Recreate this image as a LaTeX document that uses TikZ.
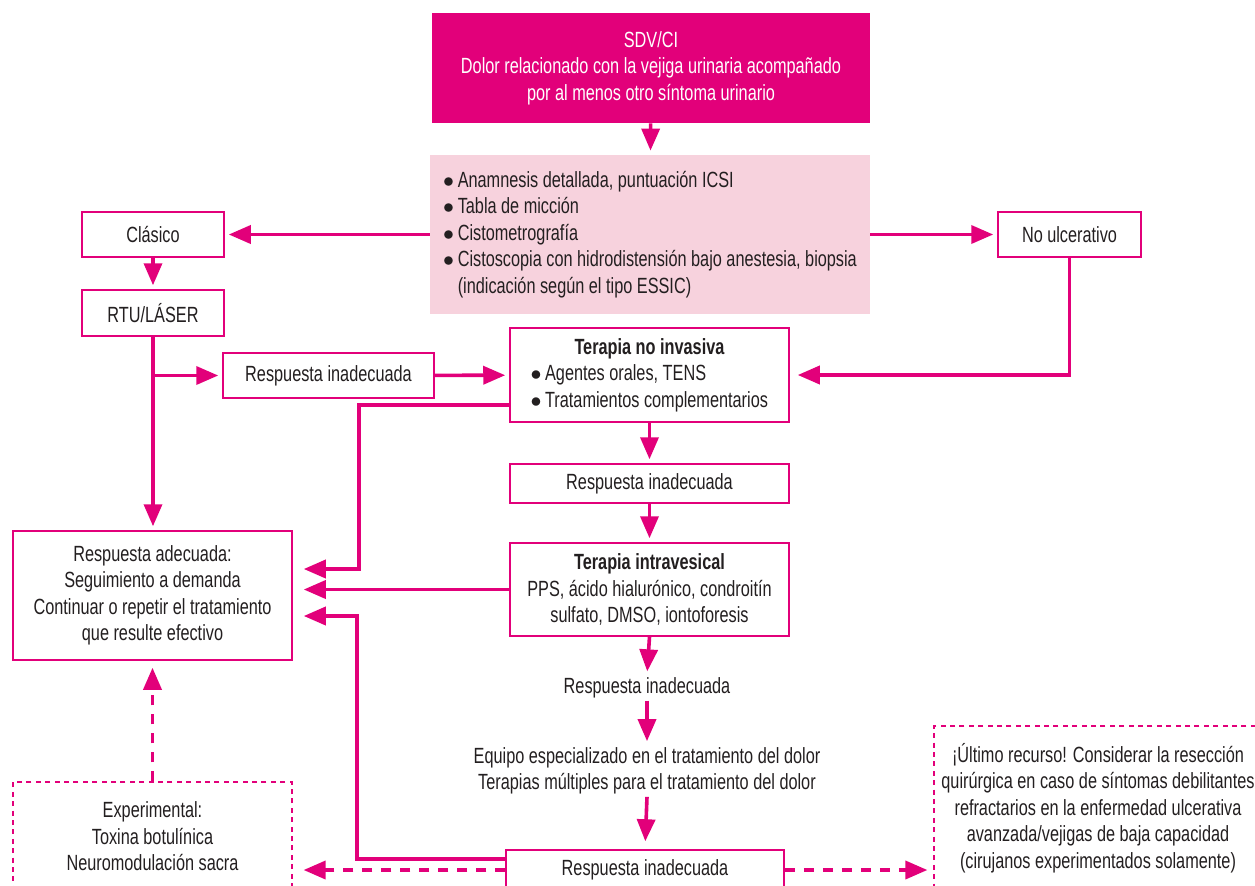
\documentclass[tikz,border=0pt]{standalone}
\usepackage{fontspec}
\setmainfont{Liberation Sans}[FakeStretch=0.74]
\usepackage{tikz}
\usetikzlibrary{arrows.meta}
\definecolor{fucsia}{HTML}{E2007A}
\definecolor{rosaclaro}{HTML}{F7D2DD}
\definecolor{texto}{HTML}{231F20}
\newcommand{\punto}{$\bullet$\,}

\begin{document}
\begin{tikzpicture}[x=0.5pt, y=-0.5pt, font=\fontsize{11}{13.2}\selectfont,
  caja/.style={draw=fucsia, line width=0.75pt, fill=white, text=texto, align=center, inner sep=2pt},
  cajapunt/.style={caja, dash pattern=on 2.5pt off 2.2pt, line width=0.6pt},
  flecha/.style={draw=fucsia, line width=1.8pt, -{Triangle[length=11pt,width=9pt]}, shorten >=2pt},
  flechapunt/.style={flecha, dash pattern=on 5pt off 4.5pt}]
%%%%% Frame %%%%%
\useasboundingbox (0,0) rectangle (1255,885);
\clip (0,0) rectangle (1255,885);
%%%%% Boxes %%%%%
\node[fill=fucsia, text=white, align=center, minimum width=219pt, minimum height=55pt] (sdv) at (651,68)
  {SDV/CI\\Dolor relacionado con la vejiga urinaria acompañado\\por al menos otro síntoma urinario};
\node[fill=rosaclaro, text=texto, align=left, minimum width=220pt, minimum height=79.5pt] (eval) at (650,234.5)
  {\punto Anamnesis detallada, puntuación ICSI\\
   \punto Tabla de micción\\
   \punto Cistometrografía\\
   \punto Cistoscopia con hidrodistensión bajo anestesia, biopsia\\
   \phantom{\punto}(indicación según el tipo ESSIC)};
\node[caja, minimum width=71pt, minimum height=22.5pt] (clasico) at (153,234.5) {Clásico};
\node[caja, minimum width=71pt, minimum height=23pt] (rtu) at (153,313) {RTU/LÁSER};
\node[caja, minimum width=71.5pt, minimum height=22.5pt] (noulc) at (1069.5,234.5) {No ulcerativo};
\node[caja, minimum width=105.5pt, minimum height=22.5pt] (resp1) at (328.5,375.5) {Respuesta inadecuada};
\node[caja, minimum width=139.5pt, minimum height=47pt] (tni) at (649.5,375)
  {\textbf{Terapia no invasiva}\\
   \makebox[119pt][l]{\punto Agentes orales, TENS}\\
   \makebox[119pt][l]{\punto Tratamientos complementarios}};
\node[caja, minimum width=139.5pt, minimum height=19.5pt] (resp2) at (649.5,483.5) {Respuesta inadecuada};
\node[caja, minimum width=139.5pt, minimum height=46.5pt] (tiv) at (649.5,589.5)
  {\textbf{Terapia intravesical}\\PPS, ácido hialurónico, condroitín\\sulfato, DMSO, iontoforesis};
\node[caja, minimum width=139.5pt, minimum height=64.5pt] (adec) at (152.5,595.5)
  {Respuesta adecuada:\\Seguimiento a demanda\\Continuar o repetir el tratamiento\\que resulte efectivo};
\node[text=texto, inner sep=1pt] (resp3) at (647,688) {Respuesta inadecuada};
\node[text=texto, align=center, inner sep=1pt] (equipo) at (647,771)
  {Equipo especializado en el tratamiento del dolor\\Terapias múltiples para el tratamiento del dolor};
\node[caja, minimum width=139pt, minimum height=20pt] (resp4) at (645,870) {Respuesta inadecuada};
\node[cajapunt, minimum width=139.5pt, minimum height=54.5pt] (exper) at (152.5,836.5)
  {Experimental:\\Toxina botulínica\\Neuromodulación sacra};
\node[cajapunt, minimum width=164pt, minimum height=82pt] (ultimo) at (1098,808)
  {¡Último recurso! Considerar la resección\\quirúrgica en caso de síntomas debilitantes\\refractarios en la enfermedad ulcerativa\\avanzada/vejigas de baja capacidad\\(cirujanos experimentados solamente)};
%%%%% Arrows %%%%%
\draw[flecha] (sdv) -- (eval);
\draw[flecha] (eval) -- (clasico);
\draw[flecha] (eval) -- (noulc);
\draw[flecha] (clasico) -- (rtu);
\draw[flecha] (rtu.south) -- (rtu.south |- adec.north);
\draw[flecha] (rtu.south |- resp1) -- (resp1);
\draw[flecha] (resp1) -- (tni);
\draw[flecha, shorten >=4pt] (noulc.south) |- (tni.east);
\foreach \a/\b in {tni/resp2, resp2/tiv, tiv/resp3, resp3/equipo}{
\draw[flecha] (\a.south) -- (\b.north);
}
\draw[flecha, shorten >=4pt] (equipo.south) -- (resp4.north);
\draw[flecha, shorten >=5.5pt] ([yshift=-15pt]tni.west) -| ([xshift=33pt,yshift=13.25pt]adec.east) -- ([yshift=13.25pt]adec.east);
\draw[flecha, shorten >=5.5pt] (tiv.west) -- (tiv.west -| adec.east);
\draw[flecha, shorten >=5.5pt] ([yshift=5.5pt]resp4.west) -| ([xshift=32pt,yshift=-10.25pt]adec.east) -- ([yshift=-10.25pt]adec.east);
% dashed ones
\draw[flechapunt, shorten >=3.5pt] (exper) -- (adec);
\draw[flechapunt, shorten >=5.5pt] (resp4.west) -- (resp4.west -| exper.east);
\draw[flechapunt, shorten >=3pt] (resp4.east) -- (resp4.east -| ultimo.west);
\end{tikzpicture}
\end{document}
